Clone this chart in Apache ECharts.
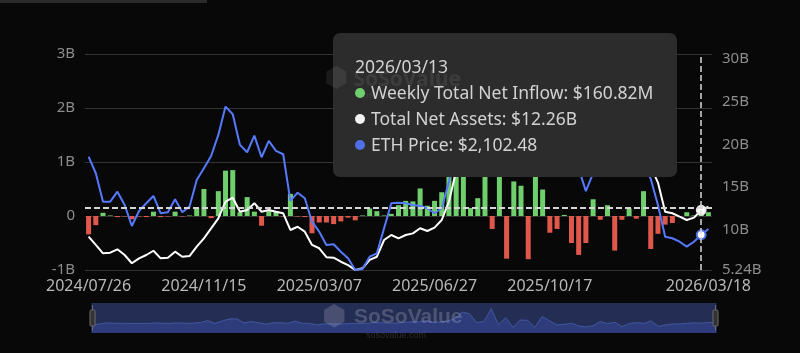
<!DOCTYPE html>
<html>
<head>
<meta charset="utf-8">
<script src="https://cdn.jsdelivr.net/npm/echarts@6/dist/echarts.min.js"></script>
<style>
  html, body { margin: 0; padding: 0; background: #080808; }
  #wrap { position: relative; width: 800px; height: 353px; }
  #main { width: 800px; height: 353px; }
  #mark {
    position: absolute; left: 325px; top: 58px; z-index: 99999999;
    pointer-events: none; color: rgba(255,255,255,0.08);
    font-family: "Noto Sans", sans-serif; font-weight: bold; font-size: 21px;
  }
  #mark small { display: block; font-size: 9px; font-weight: normal; margin: -6px 0 0 34px; }
</style>
</head>
<body>
<div id="wrap">
  <div id="main"></div>
  <div id="mark"><span style="font-size:26px">&#x2B22;</span> SoSoValue<small>sosovalue.com</small></div>
</div>
<script>
// weekly dates
const dates = [
  '2024/07/26','2024/08/02','2024/08/09','2024/08/16','2024/08/23','2024/08/30','2024/09/06','2024/09/13',
  '2024/09/20','2024/09/27','2024/10/04','2024/10/11','2024/10/18','2024/10/25','2024/11/01','2024/11/08',
  '2024/11/15','2024/11/22','2024/11/29','2024/12/06','2024/12/13','2024/12/20','2024/12/27','2025/01/03',
  '2025/01/10','2025/01/17','2025/01/24','2025/01/31','2025/02/07','2025/02/14','2025/02/21','2025/02/28',
  '2025/03/07','2025/03/14','2025/03/21','2025/03/28','2025/04/04','2025/04/11','2025/04/18','2025/04/25',
  '2025/05/02','2025/05/09','2025/05/16','2025/05/23','2025/05/30','2025/06/06','2025/06/13','2025/06/20',
  '2025/06/27','2025/07/04','2025/07/11','2025/07/18','2025/07/25','2025/08/01','2025/08/08','2025/08/15',
  '2025/08/22','2025/08/29','2025/09/05','2025/09/12','2025/09/19','2025/09/26','2025/10/03','2025/10/10',
  '2025/10/17','2025/10/24','2025/10/31','2025/11/07','2025/11/14','2025/11/21','2025/11/28','2025/12/05',
  '2025/12/12','2025/12/19','2025/12/26','2026/01/02','2026/01/09','2026/01/16','2026/01/23','2026/01/30',
  '2026/02/06','2026/02/13','2026/02/20','2026/02/27','2026/03/06','2026/03/13','2026/03/18'
];

// weekly total net inflow, in billions USD
const netInflow = [
  -0.34, -0.17, 0.06, 0.01, -0.02, -0.01, -0.06, -0.01,
  -0.02, 0.08, -0.02, -0.01, 0.08, -0.01, 0.01, 0.15,
  0.5, -0.04, 0.46, 0.84, 0.85, 0.07, 0.35, 0.08,
  -0.18, 0.11, 0.09, -0.01, 0.41, -0.01, -0.02, -0.32,
  -0.12, -0.12, -0.15, -0.1, -0.03, -0.08, 0.01, 0.14,
  0.09, 0.01, 0.04, 0.2, 0.28, 0.27, 0.51, 0.19,
  0.28, 0.44, 0.91, 2.18, 1.85, 0.15, 0.33, 2.85,
  -0.24, 1.08, -0.79, 0.64, 0.56, -0.8, 1.3, 0.49,
  -0.31, -0.24, 0.02, -0.5, -0.72, -0.5, 0.31, -0.07,
  0.2, -0.64, -0.07, 0.14, -0.05, 0.46, -0.61, -0.33,
  -0.16, -0.13, -0.01, 0.07, 0.01, 0.16082, 0.07
];

// total net assets, in billions USD
const netAssets = [
  9.15, 8.18, 7.20, 7.27, 7.67, 7.00, 6.03, 6.61,
  7.00, 7.50, 6.61, 6.68, 7.39, 6.80, 6.88, 7.98,
  8.96, 10.12, 11.31, 13.26, 13.73, 12.08, 12.29, 13.08,
  12.08, 12.29, 12.08, 11.90, 9.94, 10.32, 9.74, 8.18,
  7.79, 6.74, 6.68, 6.21, 5.82, 5.24, 5.44, 6.42,
  6.80, 8.76, 9.35, 8.96, 9.35, 9.54, 10.14, 9.82,
  10.21, 11.11, 13.26, 16.9, 20.1, 19.4, 22.8, 28.6,
  29.2, 30.6, 27.7, 29.6, 28.9, 25.1, 29.3, 26.0,
  25.2, 25.6, 25.3, 22.2, 19.6, 17.4, 19.8, 19.4,
  19.2, 17.9, 17.6, 18.3, 19.7, 19.1, 17.4, 15.5,
  12.08, 11.90, 11.50, 11.11, 11.39, 12.26, 12.68
];

// ETH price, USD
const ethPrice = [
  3281, 3030, 2601, 2601, 2752, 2551, 2234, 2461,
  2577, 2687, 2426, 2441, 2637, 2441, 2526, 2929,
  3106, 3290, 3609, 4036, 3921, 3458, 3347, 3598,
  3272, 3518, 3367, 3317, 2612, 2737, 2653, 2299,
  2148, 1948, 1958, 1846, 1747, 1570, 1585, 1771,
  1822, 2200, 2577, 2586, 2577, 2552, 2536, 2502,
  2426, 2502, 2900, 3550, 3720, 3490, 3900, 4430,
  4830, 4370, 4300, 4710, 4470, 4000, 4490, 3830,
  3880, 3930, 3850, 3420, 3100, 2760, 3030, 3040,
  3090, 3010, 3000, 3100, 3300, 3180, 2944, 2552,
  2073, 2049, 1997, 1922, 1997, 2102.48, 2189
];

const leftTicks = [-1, 0, 1, 2, 3];
const rightTicks = [5.24, 10, 15, 20, 25, 30];
const hoverIndex = 85;

const GREEN = '#6fcf6c';
const RED = '#e0584b';
const BLUE = '#4f6fe6';
const WHITE = '#ffffff';

function fmtMoney(v) {
  if (Math.abs(v) >= 1) return '$' + v.toFixed(2) + 'B';
  return '$' + (v * 1000).toFixed(2) + 'M';
}

let myChart = echarts.init(document.getElementById('main'));

const dot = c => '<span style="display:inline-block;width:10px;height:10px;border-radius:5px;margin-right:6px;vertical-align:1px;background:' + c + '"></span>';

let option = {
    backgroundColor: '#080808',
    animation: false,
    textStyle: { fontFamily: '"Noto Sans", sans-serif' },
    graphic: [
        { type: 'rect', left: 0, top: 0, shape: { width: 207, height: 3 }, style: { fill: '#2a2a2a' } },
        {
            type: 'group', left: 322, top: 303, silent: true, z: 1000,
            children: [
                { type: 'text', left: 0, top: 0, z: 1000, style: { text: '\u2B22', fontSize: 28, fill: 'rgba(200,200,210,0.22)' } },
                { type: 'text', left: 32, top: 4, z: 1000, style: { text: 'SoSoValue', fontSize: 21, fontWeight: 'bold', fill: 'rgba(200,200,210,0.25)' } },
                { type: 'text', left: 44, top: 28, z: 1000, style: { text: 'sosovalue.com', fontSize: 9, fill: 'rgba(200,200,210,0.18)' } }
            ]
        }
    ],
    grid: { left: 85, right: 88, top: 54, bottom: 83 },
    tooltip: {
        trigger: 'axis',
        alwaysShowContent: true,
        position: [333, 33],
        backgroundColor: '#2c2c2c',
        borderWidth: 0,
        padding: [20, 24, 20, 22],
        extraCssText: 'border-radius:7px;box-shadow:none;',
        textStyle: { color: '#d2d2d2', fontSize: 17 },
        axisPointer: {
            type: 'cross',
            label: { show: false },
            lineStyle: { color: '#d8d8d8', type: 'dashed', width: 1.5 },
            crossStyle: { color: '#d8d8d8', type: 'dashed', width: 1.5 }
        },
        formatter: function (params) {
            const i = params[0].dataIndex;
            return '<div style="line-height:26px;font-family:\'Noto Sans\',sans-serif;font-size:17.5px;color:#d2d2d2">' +
                '<div>' + dates[i] + '</div>' +
                '<div>' + dot(GREEN) + 'Weekly Total Net Inflow: ' + fmtMoney(netInflow[i]) + '</div>' +
                '<div>' + dot('#f2f2f2') + 'Total Net Assets: ' + fmtMoney(netAssets[i]) + '</div>' +
                '<div>' + dot(BLUE) + 'ETH Price: $' + ethPrice[i].toLocaleString('en-US', { minimumFractionDigits: 2, maximumFractionDigits: 2 }) + '</div>' +
                '</div>';
        }
    },
    xAxis: {
        type: 'category',
        data: dates,
        boundaryGap: true,
        axisLine: { show: false },
        axisTick: { show: false },
        axisLabel: {
            color: '#b8b8b8',
            fontSize: 16,
            margin: 8,
            interval: function (idx) {
                return (idx % 16 === 0 && idx <= 64) || idx === dates.length - 1;
            }
        }
    },
    yAxis: [
        {
            type: 'value',
            min: leftTicks[0],
            max: leftTicks[leftTicks.length - 1],
            interval: 1,
            axisLabel: {
                color: '#8c8c8c', fontSize: 15, margin: 10,
                formatter: v => v === 0 ? '0' : v + 'B'
            },
            splitLine: { lineStyle: { color: '#333' } }
        },
        {
            type: 'value',
            min: Math.min(...netAssets),
            max: Math.max(...netAssets),
            position: 'right',
            splitLine: { show: false },
            axisTick: { show: false },
            axisLine: { show: false },
            axisLabel: {
                color: '#8c8c8c', fontSize: 15, margin: 10,
                customValues: rightTicks,
                formatter: v => v + 'B'
            }
        },
        {
            type: 'value',
            show: false,
            min: 'dataMin',
            max: 'dataMax'
        }
    ],
    dataZoom: [
        {
            type: 'slider',
            xAxisIndex: 0,
            start: 0,
            end: 100,
            left: 89,
            right: 86,
            top: 303,
            height: 30,
            showDetail: false,
            moveHandleSize: 0,
            brushSelect: false,
            borderColor: 'transparent',
            backgroundColor: '#1a2038',
            fillerColor: 'rgba(45,58,110,0.55)',
            handleSize: '85%',
            handleStyle: { color: '#333', borderColor: '#6a6a6a' },
            dataBackground: {
                lineStyle: { color: '#5c78d8', width: 1 },
                areaStyle: { color: '#2f3f8e', opacity: 1 }
            },
            selectedDataBackground: {
                lineStyle: { color: '#5c78d8', width: 1 },
                areaStyle: { color: '#2f3f8e', opacity: 1 }
            }
        }
    ],
    series: [
        {
            name: 'Weekly Total Net Inflow',
            type: 'bar',
            yAxisIndex: 0,
            barWidth: 5,
            data: netInflow,
            itemStyle: {
                color: p => p.value >= 0 ? GREEN : RED
            }
        },
        {
            name: 'Total Net Assets',
            type: 'line',
            yAxisIndex: 1,
            data: netAssets,
            showSymbol: false,
            symbolSize: 8,
            lineStyle: { color: WHITE, width: 2 },
            itemStyle: { color: '#e8e8e8' }
        },
        {
            name: 'ETH Price',
            type: 'line',
            yAxisIndex: 2,
            data: ethPrice,
            showSymbol: false,
            symbolSize: 8,
            lineStyle: { color: BLUE, width: 2 },
            itemStyle: { color: BLUE }
        }
    ]
};

myChart.setOption(option);
myChart.dispatchAction({ type: 'showTip', seriesIndex: 0, dataIndex: hoverIndex });
</script>
</body>
</html>
